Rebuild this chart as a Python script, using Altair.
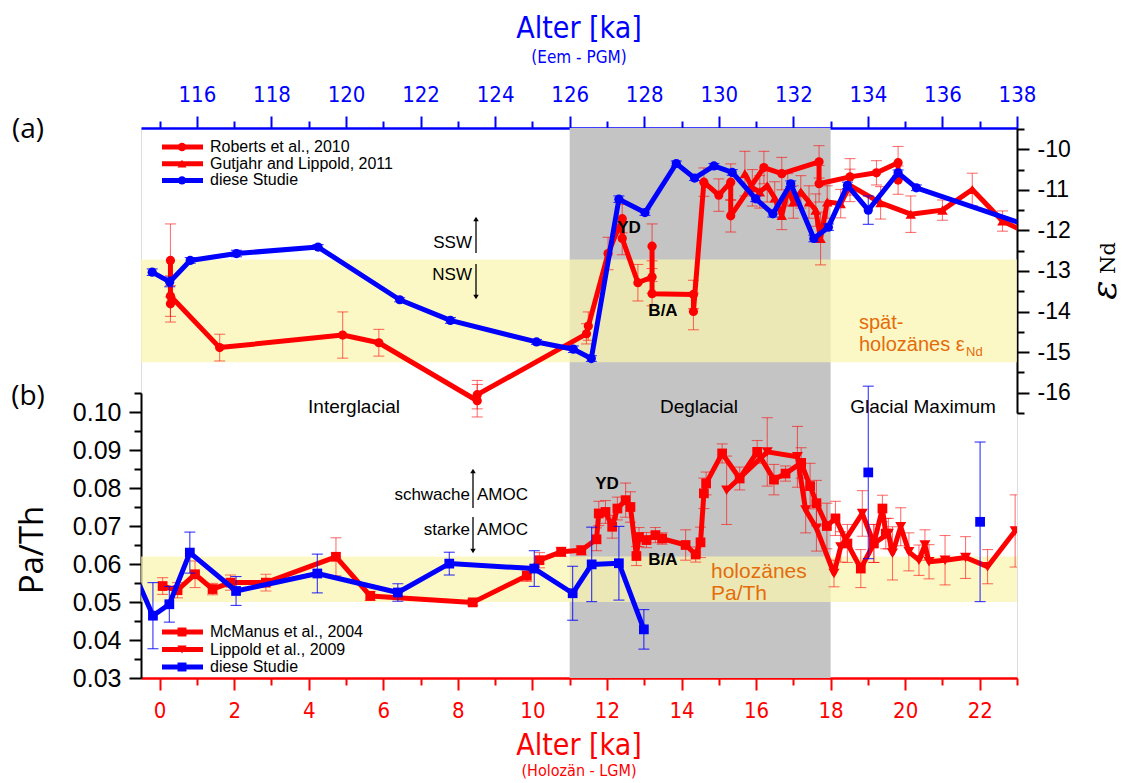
import altair as alt
import pandas as pd

# ---------------------------------------------------------------- data
# (a) eps_Nd, Roberts et al. 2010 -- age [ka], value, 1 sigma
RB_AGE = [0.29, 0.29, 0.29, 1.61, 4.91, 5.88, 8.52, 8.52, 11.45, 11.50, 12.03, 12.41,
          12.41, 12.83, 13.21, 13.21, 13.21, 14.32, 14.32, 14.60, 15.00, 15.32, 15.32,
          16.21, 16.69, 17.69, 17.69, 18.52, 19.23, 19.81, 19.81]
RB_END = [-12.74, -13.81, -13.62, -14.89, -14.58, -14.77, -16.20, -16.05, -14.55, -14.36,
          -12.57, -11.71, -12.20, -13.29, -13.15, -12.39, -13.56, -13.58, -14.00, -10.81,
          -11.13, -10.81, -11.64, -10.45, -10.60, -10.31, -10.85, -10.68, -10.58, -10.33,
          -10.76]
RB_ERR = [0.90, 0.45, 0.50, 0.33, 0.57, 0.33, 0.40, 0.35, 0.25, 0.35, 0.40, 0.35, 0.40,
          0.45, 0.40, 0.55, 0.30, 0.35, 0.45, 0.35, 0.40, 0.45, 0.40, 0.40, 0.40, 0.40,
          0.45, 0.45, 0.30, 0.40, 0.35]

# (a) eps_Nd, Gutjahr and Lippold 2011
GL_AGE = [15.70, 15.90, 16.10, 16.30, 16.50, 16.69, 16.85, 17.00, 17.20, 17.42, 17.60,
          17.73, 17.91, 18.27, 18.52, 19.34, 20.15, 21.00, 21.80, 22.61, 23.60]
GL_END = [-10.60, -10.95, -11.05, -10.90, -11.20, -11.63, -11.00, -11.30, -11.05, -11.30,
          -11.50, -12.20, -11.30, -11.34, -10.89, -11.32, -11.60, -11.50, -10.99, -11.77,
          -12.20]
GL_ERR = [0.55, 0.45, 0.40, 0.40, 0.40, 0.35, 0.40, 0.40, 0.40, 0.40, 0.40, 0.65, 0.40,
          0.35, 0.40, 0.40, 0.45, 0.25, 0.40, 0.25, 0.30]

# (a) eps_Nd, diese Studie -- age on the Eem scale [ka]
BA_EEM = [114.80, 115.27, 115.82, 117.06, 119.25, 121.44, 122.80, 125.11, 126.10, 126.58,
          127.32, 128.02, 128.86, 129.35, 129.87, 130.36, 130.99, 131.45, 131.93, 132.55,
          132.94, 133.45, 134.01, 134.81, 135.30, 139.00]
BA_END = [-13.03, -13.27, -12.74, -12.57, -12.41, -13.71, -14.22, -14.75, -14.93, -15.16,
          -11.23, -11.56, -10.35, -10.71, -10.41, -10.57, -11.22, -11.59, -10.85, -12.20,
          -11.92, -10.89, -11.50, -10.58, -10.95, -12.10]
BA_ERR = [0.08, 0.12, 0.07, 0.08, 0.06, 0.05, 0.07, 0.06, 0.08, 0.07, 0.08, 0.07, 0.06,
          0.06, 0.06, 0.07, 0.07, 0.08, 0.07, 0.08, 0.08, 0.08, 0.35, 0.07, 0.07, 0.07]

# (b) Pa/Th, McManus et al. 2004
MM_AGE = [0.08, 0.48, 0.95, 1.42, 1.90, 2.85, 4.73, 5.65, 8.40, 9.85, 10.19, 10.77, 11.31,
          11.72, 11.78, 11.96, 12.14, 12.28, 12.50, 12.63, 12.79, 12.86, 13.06, 13.30,
          13.48, 14.11, 14.38, 14.51, 14.60, 14.66, 15.09, 15.56, 16.03, 16.48, 16.79,
          17.21, 17.45, 17.62, 17.90, 18.13, 18.45, 18.81, 19.16, 19.39, 19.48]
MM_VAL = [0.0542, 0.0531, 0.0573, 0.0534, 0.0551, 0.0551, 0.0619, 0.0516, 0.0499, 0.0569,
          0.0610, 0.0632, 0.0636, 0.0665, 0.0733, 0.0737, 0.0698, 0.0746, 0.0768, 0.0750,
          0.0621, 0.0671, 0.0663, 0.0676, 0.0667, 0.0650, 0.0625, 0.0657, 0.0786, 0.0812,
          0.0891, 0.0825, 0.0895, 0.0822, 0.0838, 0.0866, 0.0805, 0.0760, 0.0700, 0.0720,
          0.0654, 0.0588, 0.0654, 0.0746, 0.0680]
MM_ERR = [0.0022, 0.0020, 0.0035, 0.0015, 0.0020, 0.0022, 0.0050, 0.0012, 0.0008, 0.0015,
          0.0020, 0.0012, 0.0012, 0.0030, 0.0032, 0.0030, 0.0030, 0.0030, 0.0045, 0.0040,
          0.0025, 0.0025, 0.0020, 0.0020, 0.0015, 0.0040, 0.0020, 0.0040, 0.0040, 0.0030,
          0.0025, 0.0030, 0.0030, 0.0040, 0.0020, 0.0040, 0.0060, 0.0060, 0.0060, 0.0045,
          0.0050, 0.0050, 0.0050, 0.0035, 0.0040]

# (b) Pa/Th, Lippold et al. 2009
LP_AGE = [15.21, 16.30, 17.11, 17.33, 17.62, 18.09, 18.27, 18.85, 19.16, 19.55, 19.66,
          19.88, 20.10, 20.37, 20.53, 20.64, 21.07, 21.62, 22.21, 22.95]
LP_VAL = [0.0794, 0.0895, 0.0882, 0.0742, 0.0694, 0.0575, 0.0645, 0.0733, 0.0654, 0.0680,
          0.0628, 0.0698, 0.0632, 0.0610, 0.0650, 0.0606, 0.0610, 0.0617, 0.0593, 0.0687]
LP_ERR = [0.0090, 0.0090, 0.0080, 0.0060, 0.0060, 0.0035, 0.0040, 0.0060, 0.0050, 0.0040,
          0.0070, 0.0050, 0.0050, 0.0040, 0.0040, 0.0045, 0.0065, 0.0055, 0.0045, 0.0095]

# (b) Pa/Th, diese Studie -- connected record and two single samples (Eem scale)
BB_EEM = [114.30, 114.82, 115.26, 115.81, 117.05, 119.23, 121.39, 122.77, 125.05, 126.08,
          126.59, 127.32, 127.99]
BB_VAL = [0.0580, 0.0464, 0.0494, 0.0630, 0.0529, 0.0575, 0.0525, 0.0601, 0.0588, 0.0523,
          0.0599, 0.0602, 0.0428]
BB_ERR = [0.0040, 0.0087, 0.0047, 0.0054, 0.0038, 0.0051, 0.0023, 0.0030, 0.0047, 0.0071,
          0.0098, 0.0097, 0.0052]
BS_EEM = [134.01, 137.01]
BS_VAL = [0.0841, 0.0711]
BS_ERR = [0.0227, 0.0210]

# shaded ranges
DEGLACIAL = (11, 18)
LATE_HOLO_END = (-12.72, -15.25)
HOLO_PATH = (0.050, 0.062)

# ---------------------------------------------------------------- style
RED, BLUE, ORANGE = "#FF0000", "#0000FF", "#E46C0A"
GREY, YELLOW = "#C4C4C4", "#FBF5AE"
NARROW = "Liberation Sans Narrow, DejaVu Sans Condensed, Liberation Sans, sans-serif"
SANS = "Liberation Sans, Arial, sans-serif"
W, H = 876, 550

x_hol = alt.Scale(domain=[-0.5, 23], nice=False, zero=False)
x_eem = alt.Scale(domain=[114.5, 138], nice=False, zero=False)
y_end = alt.Scale(domain=[-16.5, -9.475], range=[284.9, 0], nice=False, zero=False)
y_pat = alt.Scale(domain=[0.03, 0.105], range=[550, 265], nice=False, zero=False)


def major_minor(test, major, minor):
    return {"condition": {"test": test, "value": major}, "value": minor}


ax_bottom = alt.Axis(
    orient="bottom", values=list(range(0, 24)), title=None, grid=False,
    domainColor=RED, domainWidth=2.5, tickColor=RED, tickWidth=2,
    tickSize=major_minor("datum.value % 2 === 0", 12, 7),
    labelExpr="datum.value % 2 === 0 ? datum.label : ''",
    labelColor=RED, labelFont=NARROW, labelFontSize=22, labelPadding=10,
    labelOverlap=False, labelFlush=False)
ax_top = alt.Axis(
    orient="top", values=list(range(115, 139)), title=None, grid=False,
    domainColor=BLUE, domainWidth=2.5, tickColor=BLUE, tickWidth=2,
    tickSize=major_minor("datum.value % 2 === 0", 12, 7),
    labelExpr="datum.value % 2 === 0 ? datum.label : ''",
    labelColor=BLUE, labelFont=NARROW, labelFontSize=22, labelPadding=10,
    labelOverlap=False, labelFlush=False)
ax_right = alt.Axis(
    orient="right", values=[-16.5 + 0.5 * i for i in range(15)], title=None, grid=False,
    domainColor="black", domainWidth=2, tickColor="black", tickWidth=2,
    tickSize=major_minor("datum.value % 1 === 0", 12, 7),
    labelExpr="datum.value % 1 === 0 ? '-' + abs(datum.value) : ''",
    labelColor="black", labelFont=SANS, labelFontSize=23, labelPadding=8,
    labelOverlap=False, labelFlush=False)
ax_left = alt.Axis(
    orient="left", values=[round(0.03 + 0.005 * i, 3) for i in range(16)], title=None,
    grid=False, domainColor="black", domainWidth=2, tickColor="black", tickWidth=2,
    tickSize=major_minor("round(datum.value * 1000) % 10 === 0", 12, 7),
    labelExpr="round(datum.value * 1000) % 10 === 0 ? format(datum.value, '.2f') : ''",
    labelColor="black", labelFont=SANS, labelFontSize=25, labelPadding=8,
    labelOverlap=False, labelFlush=False)


def frame(ages, vals, errs):
    return pd.DataFrame({"age": ages, "val": vals,
                         "lo": [v - e for v, e in zip(vals, errs)],
                         "hi": [v + e for v, e in zip(vals, errs)],
                         "i": list(range(len(ages)))})


def series(df, xs, xa, ys, ya, color, shape, size, line=True, bar_opacity=0.55):
    X = lambda f: alt.X(f"{f}:Q", scale=xs, axis=xa)
    Y = lambda f: alt.Y(f"{f}:Q", scale=ys, axis=ya)
    base = alt.Chart(df)
    layers = [
        base.mark_rule(color=color, strokeWidth=1.1, opacity=bar_opacity, clip=True)
        .encode(x=X("age"), y=Y("lo"), y2="hi"),
        base.mark_tick(color=color, orient="horizontal", size=11, thickness=1.1,
                       opacity=bar_opacity, clip=True).encode(x=X("age"), y=Y("lo")),
        base.mark_tick(color=color, orient="horizontal", size=11, thickness=1.1,
                       opacity=bar_opacity, clip=True).encode(x=X("age"), y=Y("hi")),
    ]
    if line:
        layers.append(base.mark_line(color=color, strokeWidth=5, clip=True,
                                     strokeJoin="round")
                      .encode(x=X("age"), y=Y("val"), order="i:Q"))
    layers.append(base.mark_point(shape=shape, filled=True, size=size, color=color,
                                  opacity=1, clip=True).encode(x=X("age"), y=Y("val")))
    return layers


# ---------------------------------------------------------------- panel (a), Holocene scale
band_df = pd.DataFrame({"x0": [DEGLACIAL[0]], "x1": [DEGLACIAL[1]]})
grey = alt.Chart(band_df).mark_rect(color=GREY).encode(
    x=alt.X("x0:Q", scale=x_hol, axis=ax_bottom), x2="x1",
    y=alt.value(0), y2=alt.value(H))
yel_a = alt.Chart(pd.DataFrame({"x0": [-0.5], "x1": [23], "y0": [LATE_HOLO_END[0]],
                                "y1": [LATE_HOLO_END[1]]})).mark_rect(
    color=YELLOW, opacity=0.72).encode(
    x=alt.X("x0:Q", scale=x_hol, axis=ax_bottom), x2="x1",
    y=alt.Y("y0:Q", scale=y_end, axis=ax_right), y2="y1")
group_a = alt.layer(
    grey, yel_a,
    *series(frame(RB_AGE, RB_END, RB_ERR), x_hol, ax_bottom, y_end, ax_right,
            RED, "circle", 85),
    *series(frame(GL_AGE, GL_END, GL_ERR), x_hol, ax_bottom, y_end, ax_right,
            RED, "triangle-up", 110),
)

# panel (a), Eem scale
group_b = alt.layer(*series(frame(BA_EEM, BA_END, BA_ERR), x_eem, ax_top, y_end, None,
                            BLUE, "circle", 85, bar_opacity=0.8))

# ---------------------------------------------------------------- panel (b)
yel_b = alt.Chart(pd.DataFrame({"x0": [-0.5], "x1": [23], "y0": [HOLO_PATH[0]],
                                "y1": [HOLO_PATH[1]]})).mark_rect(
    color=YELLOW, opacity=0.72).encode(
    x=alt.X("x0:Q", scale=x_hol, axis=None), x2="x1",
    y=alt.Y("y0:Q", scale=y_pat, axis=ax_left), y2="y1")
group_c = alt.layer(
    yel_b,
    *series(frame(MM_AGE, MM_VAL, MM_ERR), x_hol, None, y_pat, ax_left,
            RED, "square", 95),
    *series(frame(LP_AGE, LP_VAL, LP_ERR), x_hol, None, y_pat, ax_left,
            RED, "triangle-down", 120),
)
group_d = alt.layer(
    *series(frame(BB_EEM, BB_VAL, BB_ERR), x_eem, None, y_pat, None,
            BLUE, "square", 95, bar_opacity=0.8),
    *series(frame(BS_EEM, BS_VAL, BS_ERR), x_eem, None, y_pat, None,
            BLUE, "square", 95, line=False, bar_opacity=0.8),
)

# ---------------------------------------------------------------- labels, arrows, legends
one = pd.DataFrame({"k": [0]})


def label(text, x, y, size=16, color="black", align="center", font=SANS, weight="normal",
          angle=0, style="normal", baseline="middle"):
    return alt.Chart(one).mark_text(
        text=text, fontSize=size, color=color, align=align, baseline=baseline, font=font,
        fontWeight=weight, angle=angle, fontStyle=style).encode(
        x=alt.value(x), y=alt.value(y))


def arrow(x, y_from, y_to):
    up = y_to < y_from
    return [
        alt.Chart(one).mark_rule(color="black", strokeWidth=1.3).encode(
            x=alt.value(x), y=alt.value(y_from), y2=alt.value(y_to + (4 if up else -4))),
        alt.Chart(one).mark_point(shape="triangle-up" if up else "triangle-down",
                                  filled=True, color="black", size=30, opacity=1).encode(
            x=alt.value(x), y=alt.value(y_to + (3 if up else -3))),
    ]


def legend_rows(rows, x0, y0, dy):
    out = []
    for n, (text, color, shape, size) in enumerate(rows):
        y = y0 + n * dy
        out += [
            alt.Chart(one).mark_rule(color=color, strokeWidth=5).encode(
                x=alt.value(x0), x2=alt.value(x0 + 41), y=alt.value(y)),
            alt.Chart(one).mark_point(shape=shape, filled=True, color=color, size=size,
                                      opacity=1).encode(x=alt.value(x0 + 20), y=alt.value(y)),
            label(text, x0 + 48, y, size=16, align="left"),
        ]
    return out


deco = alt.layer(
    # axis titles
    label("Alter [ka]", 438, -99, size=30, color=BLUE, font=NARROW),
    label("(Eem - PGM)", 438, -70, size=17, color=BLUE, font=NARROW),
    label("Alter [ka]", 438, 618, size=30, color=RED, font=NARROW),
    label("(Holozän - LGM)", 438, 643, size=16, color=RED, font=NARROW),
    label("Pa/Th", -108, 422, size=33, font="Open Sans", angle=270),
    label("ε", 964, 162, size=36, font="DejaVu Serif", angle=270, style="italic"),
    label("Nd", 968, 130, size=21, font="DejaVu Serif", angle=270),
    label("(a)", -113, 2, size=28, font="Open Sans"),
    label("(b)", -113, 269, size=28, font="Open Sans"),
    # periods
    label("Interglacial", 213, 279, size=19),
    label("Deglacial", 558, 279, size=19),
    label("Glacial Maximum", 782, 279, size=19),
    # events
    label("YD", 488, 100, size=17, weight="bold"),
    label("B/A", 522, 183, size=17, weight="bold"),
    label("YD", 466, 356, size=17, weight="bold"),
    label("B/A", 522, 432, size=17, weight="bold"),
    # reference ranges
    label("spät-", 718, 195, size=20, color=ORANGE, align="left"),
    label("holozänes ε", 718, 217, size=20, color=ORANGE, align="left"),
    label("Nd", 825, 224, size=13, color=ORANGE, align="left"),
    label("holozänes", 570, 444, size=21, color=ORANGE, align="left"),
    label("Pa/Th", 570, 466, size=21, color=ORANGE, align="left"),
    # water masses / overturning
    label("SSW", 331, 115, size=17, align="right"),
    label("NSW", 331, 147, size=17, align="right"),
    *arrow(335, 125, 88), *arrow(335, 136, 172),
    label("schwache", 329, 367, size=17, align="right"),
    label("AMOC", 336, 367, size=17, align="left"),
    label("starke", 329, 402, size=17, align="right"),
    label("AMOC", 336, 402, size=17, align="left"),
    *arrow(332, 380, 340), *arrow(332, 389, 426),
    # legends
    *legend_rows([("Roberts et al., 2010", RED, "circle", 70),
                  ("Gutjahr and Lippold, 2011", RED, "triangle-up", 80),
                  ("diese Studie", BLUE, "circle", 70)], 21, 19, 16.7),
    *legend_rows([("McManus et al., 2004", RED, "square", 80),
                  ("Lippold et al., 2009", RED, "triangle-down", 90),
                  ("diese Studie", BLUE, "square", 80)], 21, 504, 17.5),
)

chart = (
    alt.layer(group_a, group_b, group_c, group_d, deco)
    .resolve_scale(x="independent", y="independent")
    .properties(width=W, height=H,
                padding={"left": 141, "top": 128, "right": 110, "bottom": 105},
                autosize=alt.AutoSizeParams(type="none"))
    .configure_view(stroke=None)
    .configure(background="white")
)

chart.save("out.html", embed_options={"renderer": "svg", "actions": False})
